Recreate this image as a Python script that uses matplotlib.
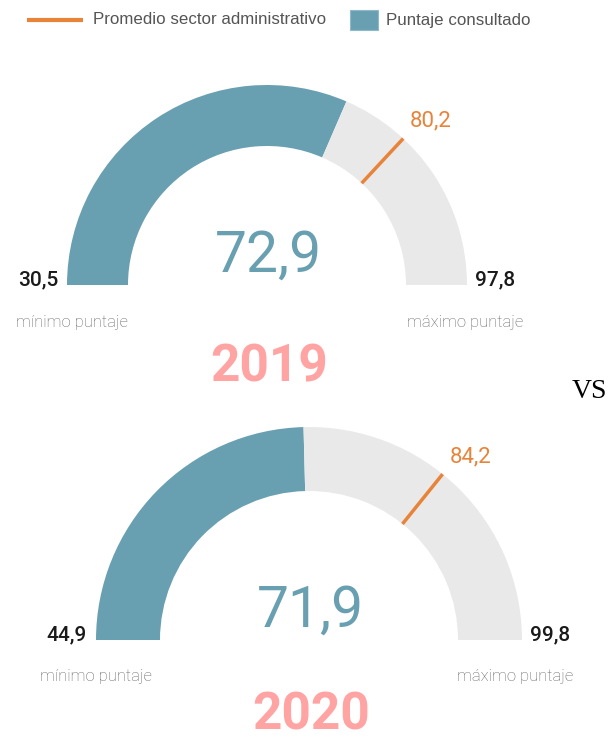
import numpy as np
import matplotlib.pyplot as plt

# datos de los dos indicadores
years = ['2019', '2020']
minimos = [30.5, 44.9]
maximos = [97.8, 99.8]
puntajes = [72.9, 71.9]
promedios = [80.2, 84.2]

legend_labels = ['Promedio sector administrativo', 'Puntaje consultado']

teal = '#69a0b1'
grey = '#e9e9e9'
orange = '#e8833a'
salmon = '#ffa3a3'

# posicion de cada medidor (pixeles, y desde abajo)
centros = [(267, 460), (309, 105)]
radios = [200, 213]
anchos = [61, 64]


def fmt(v):
    return ('%.1f' % v).replace('.', ',')


fig = plt.figure(figsize=(6.15, 7.45), dpi=100)
ax = fig.add_axes([0, 0, 1, 1])

for i in range(2):
    cx, cy = centros[i]
    r = radios[i]
    w = anchos[i]
    lo, hi = minimos[i], maximos[i]
    val = puntajes[i]
    prom = promedios[i]

    wedges, _ = ax.pie([val - lo, hi - val, hi - lo], colors=[teal, grey, 'none'],
                       startangle=180, counterclock=False, center=(cx, cy),
                       radius=r, wedgeprops=dict(width=w, linewidth=0))

    # linea del promedio
    ang = np.pi * (1 - (prom - lo) / (hi - lo))
    xs = [cx + (r - w) * np.cos(ang), cx + r * np.cos(ang)]
    ys = [cy + (r - w) * np.sin(ang), cy + r * np.sin(ang)]
    ax.plot(xs, ys, color=orange, lw=2.5, solid_capstyle='butt')
    ax.annotate(fmt(prom), (xs[1], ys[1]), xytext=(5, 5), textcoords='offset points',
                ha='left', va='bottom', color=orange, fontsize=16,
                family='Roboto')

    ax.text(cx + 1, cy + 13, fmt(val), ha='center', va='baseline', color=teal,
            fontsize=41, family='Roboto', fontweight='normal')

    ax.text(cx - r - 9, cy, fmt(lo), ha='right', va='baseline', color='#1a1a1a',
            fontsize=15, family='Roboto', fontweight='medium')
    ax.text(cx + r + 8, cy, fmt(hi), ha='left', va='baseline', color='#1a1a1a',
            fontsize=15, family='Roboto', fontweight='medium')

    ax.text(cx - r + 5 - 5 * i, cy - 37, 'mínimo puntaje', ha='center', va='center',
            color='#666666', fontsize=12, family='Roboto', fontweight='light')
    ax.text(cx + r - 2 - 5 * i, cy - 37, 'máximo puntaje', ha='center', va='center',
            color='#666666', fontsize=12, family='Roboto', fontweight='light')

    ax.text(cx + 2, cy - 82 + 6 * i, years[i], ha='center', va='center', color=salmon,
            fontsize=37, family='Roboto', fontweight='bold')

ax.text(572, 347, 'VS', ha='left', va='baseline', fontsize=20,
        family='Liberation Serif', color='black')

# leyenda
ax.plot([27, 83], [725, 725], color=orange, lw=3, solid_capstyle='butt')
ax.text(93, 725, legend_labels[0], ha='left', va='center', fontsize=12.2,
        family='Liberation Sans', color='#555555')
ax.add_patch(plt.Rectangle((350, 715), 28, 20, color=teal, ec='#8fb9c6', lw=0.8))
ax.text(386, 725, legend_labels[1], ha='left', va='center', fontsize=12.2,
        family='Liberation Sans', color='#555555')

ax.set_xlim(0, 615)
ax.set_ylim(0, 745)
ax.set_aspect('equal')
ax.axis('off')

fig.savefig('out.png', dpi=100)
